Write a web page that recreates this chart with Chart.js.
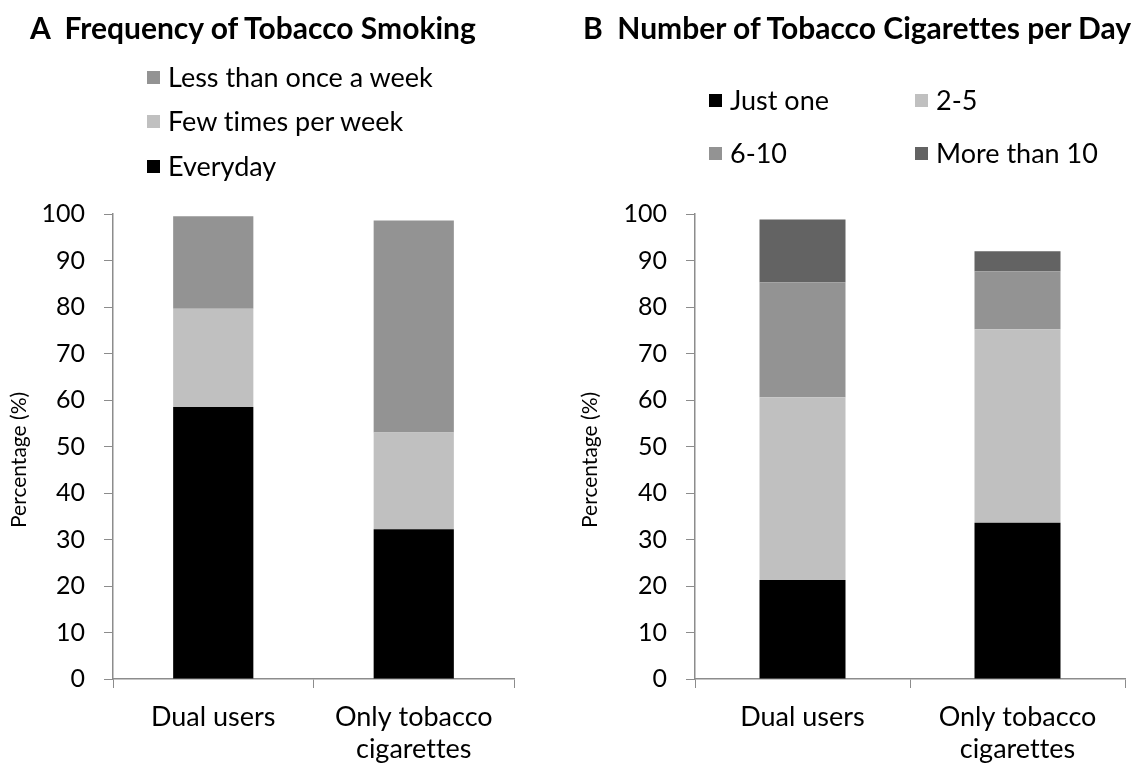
<!DOCTYPE html>
<html>
<head>
<meta charset="utf-8">
<script src="https://cdn.jsdelivr.net/npm/chart.js@4.4.1/dist/chart.umd.min.js"></script>
<style>
    body { margin: 0; background: #fff; font-family: Lato, sans-serif; color: #000; font-variant-ligatures: none; }
    .wrap { position: relative; width: 1142px; height: 764px; overflow: hidden; }
    .panel { position: absolute; top: 0; width: 571px; height: 764px; }
    .panel canvas { position: absolute; left: 0; top: 0; }
    .title { position: absolute; top: 9px; font-weight: bold; font-size: 30px; line-height: 36px; white-space: pre; }
    .leg { position: absolute; font-size: 27px; white-space: nowrap; line-height: 1; }
    .leg i { display: inline-block; width: 13px; height: 13px; margin-right: 8px; vertical-align: 3px; }
</style>
</head>
<body>
<div class="wrap">
    <div class="panel" style="left:0">
        <canvas id="chartA" width="571" height="764"></canvas>
        <div class="title" style="left:30px">A  Frequency of Tobacco Smoking</div>
        <div id="legA"></div>
    </div>
    <div class="panel" style="left:571px">
        <canvas id="chartB" width="571" height="764"></canvas>
        <div class="title" style="left:12px">B  Number of Tobacco Cigarettes per Day</div>
        <div id="legB"></div>
    </div>
</div>
<script>
// categories
const groups = [['Dual users'], ['Only tobacco', 'cigarettes']];
const yTicks = [0, 10, 20, 30, 40, 50, 60, 70, 80, 90, 100];

// panel A - frequency of smoking (%)
const freqLabels = ['Everyday', 'Few times per week', 'Less than once a week'];
const everyday = [58.5, 32.2];
const fewTimes = [21.1, 20.8];
const lessOnce = [19.9, 45.6];

// panel B - cigarettes per day (%)
const cigLabels = ['Just one', '2-5', '6-10', 'More than 10'];
const justOne = [21.3, 33.6];
const twoFive = [39.3, 41.6];
const sixTen = [24.7, 12.5];
const moreTen = [13.5, 4.3];

const axisGrey = '#8c8c8c';

function makeChart(id, datasets, axisLeft, padRight) {
    return new Chart(document.getElementById(id), {
        type: 'bar',
        data: {
            labels: groups,
            datasets: datasets.map(d => ({
                label: d.label,
                data: d.data,
                backgroundColor: d.color,
                borderWidth: 0,
                barPercentage: 0.4,
                categoryPercentage: 1
            }))
        },
        options: {
            responsive: false,
            animation: false,
            layout: { padding: { top: 214, right: padRight, left: 0, bottom: 0 } },
            plugins: { legend: { display: false }, tooltip: { enabled: false } },
            scales: {
                x: {
                    stacked: true,
                    grid: { drawOnChartArea: false, color: axisGrey, tickLength: 9, offset: true },
                    border: { color: axisGrey, width: 1.5 },
                    ticks: { color: '#000', font: { family: 'Lato', size: 27 }, padding: 13, maxRotation: 0 },
                    afterFit: s => { s.height = 85; }
                },
                y: {
                    stacked: true,
                    min: 0,
                    max: 100,
                    afterBuildTicks: s => { s.ticks = yTicks.map(v => ({ value: v })); },
                    grid: { drawOnChartArea: false, color: axisGrey, tickLength: 9 },
                    border: { color: axisGrey, width: 1.5 },
                    ticks: { color: '#000', font: { family: 'Lato', size: 25 }, padding: 19 },
                    title: {
                        display: true,
                        // trailing spaces push the rotated text a little lower, as in the original
                        text: 'Percentage (%)     ',
                        color: '#000',
                        font: { family: 'Lato', size: 21 },
                        padding: { top: 7, bottom: 0 }
                    },
                    afterFit: s => { s.width = axisLeft; }
                }
            }
        }
    });
}

makeChart('chartA', [
    { label: freqLabels[0], data: everyday, color: '#000000' },
    { label: freqLabels[1], data: fewTimes, color: '#c0c0c0' },
    { label: freqLabels[2], data: lessOnce, color: '#939393' }
], 113, 57);

makeChart('chartB', [
    { label: cigLabels[0], data: justOne, color: '#000000' },
    { label: cigLabels[1], data: twoFive, color: '#c0c0c0' },
    { label: cigLabels[2], data: sixTen, color: '#939393' },
    { label: cigLabels[3], data: moreTen, color: '#636363' }
], 124, 17);

// html legends
function legendItem(parent, text, color, x, y) {
    const el = document.createElement('div');
    el.className = 'leg';
    el.style.left = x + 'px';
    el.style.top = y + 'px';
    el.innerHTML = '<i style="background:' + color + '"></i>' + text;
    document.getElementById(parent).appendChild(el);
}
legendItem('legA', freqLabels[2], '#939393', 147, 63);
legendItem('legA', freqLabels[1], '#c0c0c0', 147, 107);
legendItem('legA', freqLabels[0], '#000000', 147, 152);
legendItem('legB', cigLabels[0], '#000000', 138, 86);
legendItem('legB', cigLabels[1], '#c0c0c0', 344, 86);
legendItem('legB', cigLabels[2], '#939393', 138, 139);
legendItem('legB', cigLabels[3], '#636363', 344, 139);
</script>
</body>
</html>
